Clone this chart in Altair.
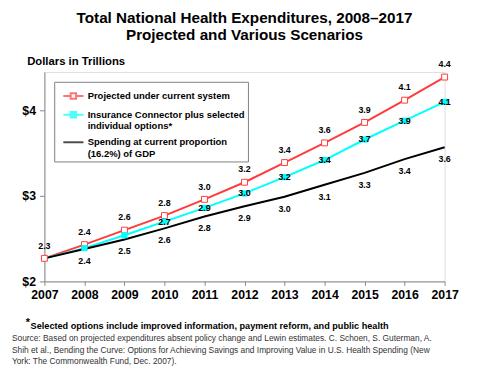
import altair as alt
import pandas as pd

# ---------------- data ----------------
years = [2007, 2008, 2009, 2010, 2011, 2012, 2013, 2014, 2015, 2016, 2017]
projected = [2.27, 2.43, 2.60, 2.77, 2.96, 3.16, 3.39, 3.62, 3.86, 4.12, 4.39]
connector = [2.27, 2.39, 2.54, 2.70, 2.86, 3.03, 3.22, 3.42, 3.66, 3.88, 4.10]
gdp_share = [2.27, 2.38, 2.49, 2.62, 2.76, 2.88, 2.99, 3.13, 3.27, 3.43, 3.57]

series_names = [
    "Projected under current system",
    "Insurance Connector plus selected|individual options*",
    "Spending at current proportion|(16.2%) of GDP",
]
series_colors = ["#FF3B3B", "#00FFFF", "#000000"]
y_ticks = [2, 3, 4]

title_lines = ["Total National Health Expenditures, 2008\u20132017",
               "Projected and Various Scenarios"]
y_title = "Dollars in Trillions"
footnote = "Selected options include improved information, payment reform, and public health"
source_lines = [
    "Source:  Based on projected expenditures absent policy change and Lewin estimates. C. Schoen, S. Guterman, A.",
    "Shih et al., Bending the Curve: Options for Achieving Savings and Improving Value in U.S. Health Spending (New",
    "York: The Commonwealth Fund, Dec. 2007).",
]

# ---------------- table ----------------
rows = []
for idx, (name, vals) in enumerate(zip(series_names, [projected, connector, gdp_share])):
    for yr, v in zip(years, vals):
        rows.append({"year": yr, "value": v, "series": name, "sid": idx})
df = pd.DataFrame(rows)

FONT = "Liberation Sans"

legend_shapes = [
    "M-1,0H-0.27M0.27,0H1M-0.27,-0.27H0.27V0.27H-0.27Z",
    "M-1,0H-0.27M0.27,0H1M-0.27,-0.27H0.27V0.27H-0.27ZM-0.12,-0.12H0.12V0.12H-0.12Z",
    "M-1,0H1",
]

legend_cfg = dict(
    orient="none", legendX=10, legendY=10, title=None,
    labelExpr="split(datum.label, '|')",
    labelFont=FONT, labelFontSize=9.6, labelFontWeight="bold", labelLimit=400,
    labelOffset=3, symbolSize=420, symbolStrokeWidth=2, symbolOffset=5,
    strokeColor="#808080", fillColor="white", padding=3, rowPadding=0,
)

x_enc = alt.X(
    "year:Q",
    scale=alt.Scale(domain=[2007, 2017], nice=False, zero=False),
    axis=alt.Axis(values=years, format="d", title=None, labelFont=FONT,
                  labelFontSize=12.5, labelFontWeight="bold", labelColor="black",
                  tickSize=4, tickColor="#888888", domainColor="#888888",
                  labelPadding=3, grid=False, labelFlush=False),
)
y_enc = alt.Y(
    "value:Q",
    scale=alt.Scale(domain=[2, 4.45], nice=False, zero=False),
    axis=alt.Axis(values=y_ticks, labelExpr="'$' + datum.value", title=y_title,
                  titleAngle=0, titleAlign="left", titleBaseline="middle",
                  titleX=-18, titleY=-11, titleFont=FONT, titleFontSize=11.5,
                  titleFontWeight="bold", titleColor="black",
                  labelFont=FONT, labelFontSize=12.5, labelFontWeight="bold",
                  labelColor="black", tickSize=5, tickColor="#888888",
                  domainColor="#888888", labelPadding=4, grid=False),
)
color_enc = alt.Color("series:N",
                      scale=alt.Scale(domain=series_names, range=series_colors),
                      legend=alt.Legend(**legend_cfg))

base = alt.Chart(df)

lines = base.mark_line(strokeWidth=2).encode(x=x_enc, y=y_enc, color=color_enc, order="year:Q")

legend_carrier = base.transform_filter("datum.year < 0").mark_point(filled=False, strokeWidth=2).encode(
    x="year:Q", y="value:Q", color=color_enc,
    shape=alt.Shape("series:N", scale=alt.Scale(domain=series_names, range=legend_shapes),
                    legend=alt.Legend(**legend_cfg)),
)

red_pts = base.transform_filter("datum.sid == 0").mark_point(
    shape="square", size=36, filled=False, fill="white", stroke=series_colors[0], strokeWidth=1, opacity=1
).encode(x="year:Q", y="value:Q")

cyan_pts = base.transform_filter("datum.sid == 1 && datum.year > 2007").mark_point(
    shape="square", size=40, filled=True, color=series_colors[1], opacity=1
).encode(x="year:Q", y="value:Q")

lab_style = dict(font=FONT, fontSize=9, fontWeight="bold", color="black")

red_lab = base.transform_filter("datum.sid == 0").mark_text(dy=-13, **lab_style).encode(
    x="year:Q", y="value:Q", text=alt.Text("value:Q", format=".1f"))
cyan_lab = base.transform_filter("datum.sid == 1 && datum.year >= 2010").mark_text(dy=0, **lab_style).encode(
    x="year:Q", y="value:Q", text=alt.Text("value:Q", format=".1f"))
black_lab = base.transform_filter("datum.sid == 2 && datum.year >= 2008").mark_text(dy=12, **lab_style).encode(
    x="year:Q", y="value:Q", text=alt.Text("value:Q", format=".1f"))

notes = alt.Chart(pd.DataFrame({"t": ["*"]})).mark_text(
    font=FONT, fontSize=11, fontWeight="bold", align="left", baseline="middle", color="black"
).encode(x=alt.value(-19), y=alt.value(255), text="t:N")

foot = alt.Chart(pd.DataFrame({"t": [footnote]})).mark_text(
    font=FONT, fontSize=9.3, fontWeight="bold", align="left", baseline="middle", color="black"
).encode(x=alt.value(-14), y=alt.value(258), text="t:N")

src = alt.Chart(pd.DataFrame({"t": ["\n".join(source_lines)]})).mark_text(
    font=FONT, fontSize=8.5, align="left", baseline="top", color="#333333", lineBreak="\n", lineHeight=11.5
).encode(x=alt.value(-33), y=alt.value(267), text="t:N")

chart = alt.layer(
    lines, legend_carrier, red_pts, cyan_pts, red_lab, cyan_lab, black_lab, notes, foot, src
).properties(
    width=407, height=213,
    autosize=alt.AutoSizeParams(type="none"),
    padding={"left": 37, "top": 62, "right": 38, "bottom": 85},
    title=alt.TitleParams(text=title_lines, font=FONT, fontSize=15.5, fontWeight="bold",
                          color="black", anchor="middle", lineHeight=17, offset=12),
).configure_view(stroke="#999999", strokeWidth=1).configure(background="white")

chart.save("out.html", embed_options={"renderer": "svg", "actions": False})
